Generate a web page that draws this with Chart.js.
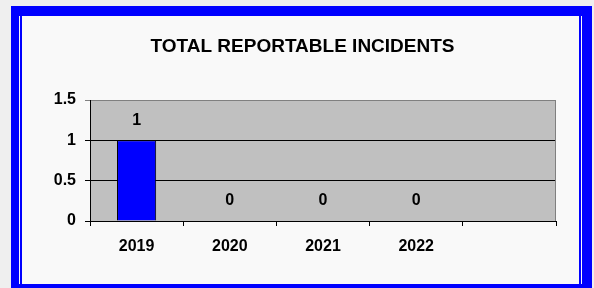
<!DOCTYPE html>
<html>
<head>
<meta charset="utf-8">
<script src="https://cdn.jsdelivr.net/npm/chart.js@4/dist/chart.umd.min.js"></script>
<style>
  html, body { margin: 0; padding: 0; background: #efefef; overflow: hidden; }
  #wrap { position: relative; width: 594px; height: 288px; }
  #frame {
    position: absolute; left: 11px; top: 6px; width: 563px; height: 282px;
    border-style: solid; border-color: #0000ff;
    border-width: 10px 10px 0 8px;
    background: #f9f9f9;
  }
  #inner {
    position: absolute; left: 1px; top: 0; right: 1px; bottom: 1px;
    border: 2px solid #0000ff; border-top: none;
  }
  #bottomband { position: absolute; left: 11px; top: 284px; width: 581px; height: 4px; background: #0000ff; }
  canvas { position: absolute; left: 0; top: 0; }
</style>
</head>
<body>
<div id="wrap">
  <div id="frame"><div id="inner"></div></div>
  <div id="bottomband"></div>
  <canvas id="incidentsChart" width="594" height="288"></canvas>
</div>
<script>
// dados do gráfico
const chartTitle = 'TOTAL REPORTABLE INCIDENTS';
const years = ['2019', '2020', '2021', '2022', ''];
const incidents = [1, 0, 0, 0, null];
const yTicks = [0, 0.5, 1, 1.5];

const FONT = "'Liberation Sans', Arial, sans-serif";

// fundo cinza da área do gráfico + borda direita + título
const plotArea = {
  id: 'plotArea',
  beforeDraw(chart) {
    const { ctx, chartArea: a } = chart;
    ctx.save();
    ctx.fillStyle = '#c0c0c0';
    ctx.fillRect(a.left, a.top, a.right - a.left, a.bottom - a.top);
    ctx.restore();
  },
  afterDatasetsDraw(chart) {
    const { ctx, chartArea: a } = chart;
    ctx.save();
    ctx.strokeStyle = '#808080';
    ctx.lineWidth = 1;
    ctx.beginPath();
    ctx.moveTo(a.right - 0.5, a.top);
    ctx.lineTo(a.right - 0.5, a.bottom);
    ctx.stroke();
    // título
    ctx.font = 'bold 19px ' + FONT;
    ctx.fillStyle = '#000';
    ctx.textAlign = 'center';
    ctx.textBaseline = 'middle';
    ctx.fillText(chartTitle, 302.5, 47);
    ctx.restore();
  }
};

// rótulos de valor acima das barras
const valueLabels = {
  id: 'valueLabels',
  afterDatasetsDraw(chart) {
    const { ctx } = chart;
    const meta = chart.getDatasetMeta(0);
    ctx.save();
    ctx.font = 'bold 16px ' + FONT;
    ctx.fillStyle = '#000';
    ctx.textAlign = 'center';
    ctx.textBaseline = 'middle';
    meta.data.forEach((bar, i) => {
      const v = incidents[i];
      if (v === null || v === undefined) return;
      ctx.fillText(String(v), bar.x, bar.y - 20);
    });
    ctx.restore();
  }
};

const ctx = document.getElementById('incidentsChart').getContext('2d');
const chart = new Chart(ctx, {
  type: 'bar',
  data: {
    labels: years,
    datasets: [{
      data: incidents,
      backgroundColor: '#0000ff',
      borderColor: '#000000',
      borderWidth: 1,
      categoryPercentage: 1,
      barPercentage: 0.42
    }]
  },
  options: {
    responsive: false,
    animation: false,
    layout: { padding: { left: 11, right: 38, top: 100, bottom: 0 } },
    plugins: {
      legend: { display: false },
      tooltip: { enabled: false },
      title: { display: false }
    },
    scales: {
      x: {
        afterFit(scale) { scale.height = 67; },
        grid: {
          offset: true,
          drawOnChartArea: false,
          drawTicks: true,
          tickLength: 5,
          color: '#000'
        },
        border: { color: '#000', width: 1 },
        ticks: {
          color: '#000',
          padding: 11,
          maxRotation: 0,
          font: { family: FONT, size: 16, weight: 'bold' }
        }
      },
      y: {
        min: 0,
        max: 1.5,
        afterFit(scale) { scale.width = 79; },
        afterBuildTicks(scale) { scale.ticks = yTicks.map(v => ({ value: v })); },
        grid: {
          tickLength: 5,
          color: (c) => (c.tick && c.tick.value === 1.5 ? '#808080' : '#000')
        },
        border: { color: '#000', width: 1 },
        ticks: {
          color: '#000',
          padding: 9,
          callback: (v) => String(v),
          font: { family: FONT, size: 16, weight: 'bold' }
        }
      }
    }
  },
  plugins: [plotArea, valueLabels]
});
</script>
</body>
</html>
